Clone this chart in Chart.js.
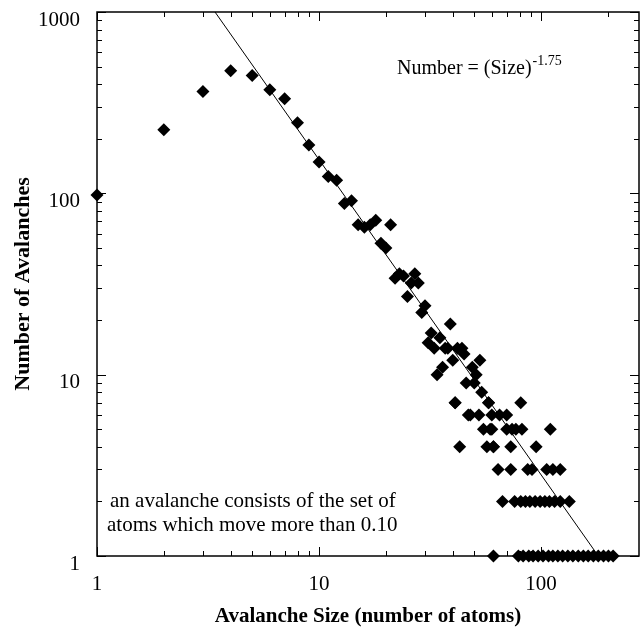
<!DOCTYPE html>
<html lang="en">
<head>
<meta charset="UTF-8">
<title>Avalanche size distribution</title>
<script src="https://cdn.jsdelivr.net/npm/chart.js@4"></script>
<style>
    html, body { margin: 0; padding: 0; background: #fff; }
    canvas { display: block; }
</style>
</head>
<body>
<canvas id="myChart" width="640" height="627"></canvas>
<script>
    // avalanche size (number of atoms) and number of avalanches of that size
    var sizes = [1, 2, 3, 4, 5, 6, 7, 8, 9, 10,
        11, 12, 13, 14, 15, 16, 17, 18, 19, 20,
        21, 22, 23, 24, 25, 26, 27, 28, 29, 30,
        31, 32, 33, 34, 35, 36, 37, 38, 39, 40,
        41, 42, 43, 44, 45, 46, 47, 48, 49, 50,
        51, 52.5, 53, 54, 55, 57, 58, 59, 61,
        81, 41, 58,
        60, 65, 70,
        60, 70, 74, 77, 82, 110,
        61, 73, 95,
        64, 73, 87, 91, 106, 113, 122,
        67, 76, 81, 85, 89, 94, 99, 104, 109, 115, 122, 134,
        61, 79, 83, 88, 92, 97, 102, 108, 113, 119, 125, 132, 139, 147, 155, 163, 172, 181, 191, 201, 211];
    var counts = [98, 224, 364, 475, 446, 373, 332, 245, 185, 149,
        124, 118, 88, 91, 67, 65, 67, 71, 53, 50,
        67, 34, 36, 35, 27, 32, 36, 32, 22, 24,
        15, 17, 14, 10, 16, 11, 14, 14, 19, 12,
        7, 14, 4, 14, 13, 9, 6, 6, 11, 9,
        10, 6, 12, 8, 5, 4, 7, 5, 4,
        7, 7, 7,
        6, 6, 6,
        5, 5, 5, 5, 5, 5,
        4, 4, 4,
        3, 3, 3, 3, 3, 3, 3,
        2, 2, 2, 2, 2, 2, 2, 2, 2, 2, 2, 2,
        1, 1, 1, 1, 1, 1, 1, 1, 1, 1, 1, 1, 1, 1, 1, 1, 1, 1, 1, 1, 1];

    // power law line, ends
    var fitSizes = [3.4, 181];
    var fitCounts = [1000, 1];

    // axis ranges and tick marks
    var xMin = 1, xMax = 276;
    var yMin = 1, yMax = 1000;
    var xLabels = [1, 10, 100];
    var yLabels = [1, 10, 100, 1000];
    var xTickValues = [1, 2, 3, 4, 5, 6, 7, 8, 9, 10, 20, 30, 40, 50, 60, 70, 80, 90, 100, 200];
    var yTickValues = [1, 2, 3, 4, 5, 6, 7, 8, 9, 10, 20, 30, 40, 50, 60, 70, 80, 90,
        100, 200, 300, 400, 500, 600, 700, 800, 900, 1000];

    var serif = "'Liberation Serif', 'DejaVu Serif', serif";

    function isMajor(v) {
        var l = Math.log10(v);
        return Math.abs(l - Math.round(l)) < 1e-9;
    }

    // no extra room for end labels, the frame is placed by hand
    function noPadding(scale) {
        scale.paddingTop = 0;
        scale.paddingBottom = 0;
        scale.paddingLeft = 0;
        scale.paddingRight = 0;
    }

    // frame with inward tick marks on all four sides
    var frame = {
        id: 'frame',
        beforeDatasetsDraw: function (chart) {
            var a = chart.chartArea, ctx = chart.ctx;
            var xs = chart.scales.x, ys = chart.scales.y;
            ctx.save();
            ctx.strokeStyle = '#000';
            ctx.lineWidth = 1;
            ctx.beginPath();
            xTickValues.forEach(function (v) {
                var px = Math.round(xs.getPixelForValue(v)) + 0.5;
                var len = isMajor(v) ? 9 : 5;
                ctx.moveTo(px, a.bottom); ctx.lineTo(px, a.bottom - len);
                ctx.moveTo(px, a.top); ctx.lineTo(px, a.top + len);
            });
            yTickValues.forEach(function (v) {
                var py = Math.round(ys.getPixelForValue(v)) + 0.5;
                var len = isMajor(v) ? 9 : 5;
                ctx.moveTo(a.left, py); ctx.lineTo(a.left + len, py);
                ctx.moveTo(a.right, py); ctx.lineTo(a.right - len, py);
            });
            ctx.stroke();
            ctx.lineWidth = 1.5;
            ctx.strokeRect(a.left, a.top, a.right - a.left, a.bottom - a.top);
            ctx.restore();
        },
        afterDraw: function (chart) {
            var ctx = chart.ctx;
            ctx.save();
            ctx.fillStyle = '#000';
            ctx.textBaseline = 'middle';
            ctx.textAlign = 'left';
            ctx.font = '20px ' + serif;
            var main = 'Number = (Size)';
            ctx.fillText(main, 397, 69);
            var w = ctx.measureText(main).width;
            ctx.font = '14px ' + serif;
            ctx.fillText('-1.75', 397 + w + 1, 61);
            ctx.font = '21px ' + serif;
            ctx.fillText('an avalanche consists of the set of', 110, 501);
            ctx.fillText('atoms which move more than 0.10', 107, 525);
            ctx.restore();
        }
    };

    var ctx = document.getElementById('myChart');

    new Chart(ctx, {
        data: {
            datasets: [{
                type: 'scatter',
                label: 'Avalanches',
                data: sizes.map(function (s, i) { return { x: s, y: counts[i] }; }),
                pointStyle: 'rectRot',
                pointRadius: 6.5,
                pointHoverRadius: 6.5,
                backgroundColor: '#000',
                borderColor: '#000',
                borderWidth: 0,
                clip: false
            }, {
                type: 'line',
                label: 'Fit',
                data: fitSizes.map(function (s, i) { return { x: s, y: fitCounts[i] }; }),
                borderColor: '#000',
                borderWidth: 1,
                pointRadius: 0,
                fill: false
            }]
        },
        options: {
            responsive: false,
            animation: false,
            layout: { autoPadding: false, padding: { top: 12, right: 1, left: 0, bottom: 0 } },
            plugins: {
                legend: { display: false },
                tooltip: { enabled: false }
            },
            scales: {
                x: {
                    type: 'logarithmic',
                    min: xMin,
                    max: xMax,
                    afterBuildTicks: function (scale) {
                        scale.ticks = xLabels.map(function (v) { return { value: v }; });
                    },
                    afterFit: function (scale) { scale.height = 71; noPadding(scale); },
                    grid: { display: false },
                    border: { display: false },
                    ticks: {
                        color: '#000',
                        padding: 8,
                        autoSkip: false,
                        maxRotation: 0,
                        font: { family: serif, size: 21 },
                        callback: function (v) { return String(v); }
                    },
                    title: {
                        display: true,
                        text: 'Avalanche Size (number of atoms)',
                        color: '#000',
                        font: { family: serif, size: 21, weight: 'bold', lineHeight: 1 },
                        padding: { top: 0, bottom: 0 }
                    }
                },
                y: {
                    type: 'logarithmic',
                    min: yMin,
                    max: yMax,
                    afterBuildTicks: function (scale) {
                        scale.ticks = yLabels.map(function (v) { return { value: v }; });
                    },
                    afterFit: function (scale) { scale.width = 97; noPadding(scale); },
                    grid: { display: false },
                    border: { display: false },
                    ticks: {
                        color: '#000',
                        padding: 9,
                        labelOffset: 8,
                        autoSkip: false,
                        font: { family: serif, size: 21 },
                        callback: function (v) { return String(v); }
                    },
                    title: {
                        display: true,
                        text: 'Number of Avalanches',
                        color: '#000',
                        font: { family: serif, size: 22, weight: 'bold', lineHeight: 1 },
                        padding: { top: 12, bottom: 0 }
                    }
                }
            }
        },
        plugins: [frame]
    });
</script>
</body>
</html>
